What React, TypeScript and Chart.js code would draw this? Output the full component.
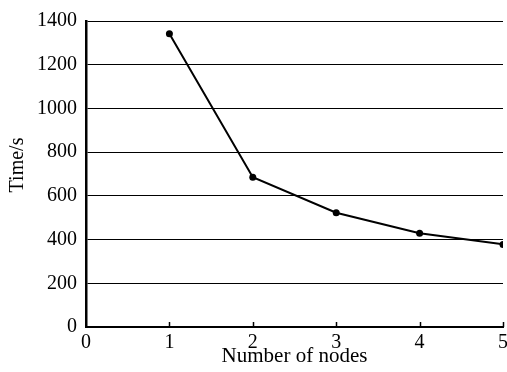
import React, { useEffect, useRef } from "react";
import { Chart, registerables } from "chart.js";

Chart.register(...registerables);

const nodes = [1, 2, 3, 4, 5];
const times = [1342, 685, 523, 429, 378];
const xTicks = [0, 1, 2, 3, 4, 5];
const yTicks = [0, 200, 400, 600, 800, 1000, 1200, 1400];
const xTitle = "Number of nodes";
const yTitle = "Time/s";

const FONT = "'Liberation Serif', 'Times New Roman', serif";

const innerTicks = {
  id: "innerTicks",
  afterDraw(chart: any) {
    const { ctx, scales } = chart;
    const x = scales.x;
    const y = scales.y;
    ctx.save();
    ctx.strokeStyle = "#000";
    ctx.lineWidth = 1.5;
    ctx.beginPath();
    xTicks.forEach((v) => {
      if (v === 0) return;
      const px = Math.round(x.getPixelForValue(v)) + 0.5;
      ctx.moveTo(px, y.bottom);
      ctx.lineTo(px, y.bottom - 5);
    });
    ctx.stroke();
    // y axis title
    ctx.fillStyle = "#000";
    ctx.font = `20px ${FONT}`;
    ctx.textAlign = "center";
    ctx.textBaseline = "middle";
    ctx.translate(18, 165);
    ctx.rotate(-Math.PI / 2);
    ctx.fillText(yTitle, 0, 0);
    ctx.restore();
  },
};

export default function App() {
  const ref = useRef<HTMLCanvasElement | null>(null);
  useEffect(() => {
    if (!ref.current) return;
    const chart = new Chart(ref.current, {
      type: "line",
      data: {
        datasets: [
          {
            data: nodes.map((n, i) => ({ x: n, y: times[i] })),
            borderColor: "#000",
            backgroundColor: "#000",
            borderWidth: 2,
            pointRadius: 3.5,
            pointBackgroundColor: "#000",
            pointBorderWidth: 0,
            tension: 0,
          },
        ],
      },
      options: {
        responsive: false,
        animation: false,
        layout: { padding: { top: 21, right: 3, left: 0, bottom: 0 } },
        plugins: { legend: { display: false }, tooltip: { enabled: false } },
        scales: {
          x: {
            type: "linear",
            min: 0,
            max: 5,
            afterBuildTicks: (s: any) => {
              s.ticks = xTicks.map((v) => ({ value: v }));
            },
            afterFit: (s: any) => {
              s.height = 372 - 327;
              s.paddingLeft = 0;
              s.paddingRight = 0;
            },
            grid: { display: true, drawOnChartArea: false, drawTicks: false },
            border: { display: true, color: "#000", width: 2 },
            ticks: {
              color: "#000",
              font: { family: FONT, size: 20 },
              padding: 4,
              maxRotation: 0,
              autoSkip: false,
              callback: (v: any) => String(v),
            },
            title: {
              display: true,
              text: xTitle,
              color: "#000",
              font: { family: FONT, size: 21 },
              padding: { top: 0, bottom: 3 },
            },
          },
          y: {
            type: "linear",
            min: 0,
            max: 1400,
            afterBuildTicks: (s: any) => {
              s.ticks = yTicks.map((v) => ({ value: v }));
            },
            afterFit: (s: any) => {
              s.width = 86;
              s.paddingTop = 0;
              s.paddingBottom = 0;
            },
            grid: { color: "#000", lineWidth: 1, drawTicks: false },
            border: { display: true, color: "#000", width: 2.5 },
            ticks: {
              color: "#000",
              font: { family: FONT, size: 20 },
              padding: 9,
              autoSkip: false,
              callback: (v: any) => String(v),
            },
          },
        },
      },
      plugins: [innerTicks],
    });
    return () => chart.destroy();
  }, []);
  return (
    <div style={{ position: "fixed", left: 0, top: 0, width: 507, height: 372, background: "#fff" }}>
      <canvas ref={ref} width={507} height={372} style={{ display: "block" }} />
    </div>
  );
}
